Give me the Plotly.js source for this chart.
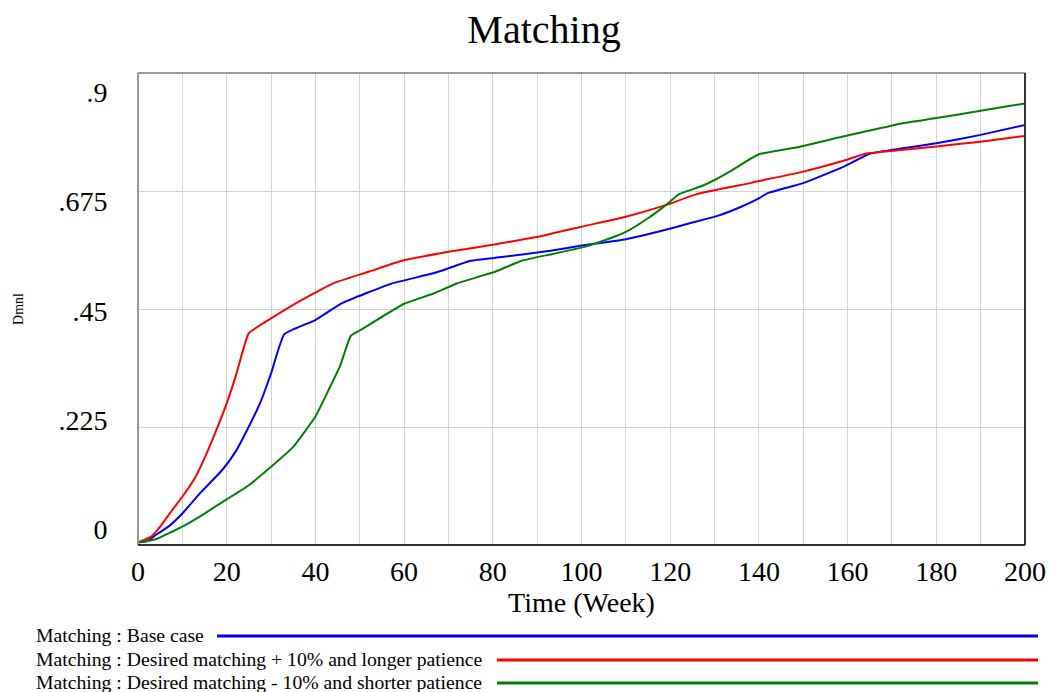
<!DOCTYPE html>
<html>
<head>
<meta charset="utf-8">
<script src="https://cdn.plot.ly/plotly-3.0.1.min.js"></script>
<style>html,body{margin:0;padding:0;background:#fff;}#chart{width:1051px;height:692px;}</style>
</head>
<body>
<div id="chart"></div>
<script>
// ---- data ----
const chartTitle = "Matching";
const xTitle = "Time (Week)";
const yTitle = "Dmnl";
const seriesNames = [
  "Matching : Base case",
  "Matching : Desired matching + 10% and longer patience",
  "Matching : Desired matching - 10% and shorter patience"
];
const seriesColors = ["#0000ff", "#ff0000", "#008000"];

const baseTime = [0, 2, 4, 7, 10, 14, 19, 22, 25, 27.5, 30, 33, 40, 46, 57, 67, 75, 82, 93, 100, 110, 119, 125, 130.5, 136, 140, 142, 150, 159, 165, 172, 180, 190, 200];
const baseValue = [0.005, 0.007, 0.019, 0.036, 0.060, 0.099, 0.143, 0.178, 0.226, 0.270, 0.327, 0.402, 0.429, 0.461, 0.498, 0.519, 0.542, 0.549, 0.561, 0.571, 0.583, 0.601, 0.615, 0.627, 0.645, 0.661, 0.671, 0.690, 0.721, 0.746, 0.756, 0.766, 0.782, 0.801];

const plusTime = [0, 3, 5, 8, 10, 13, 15.5, 18, 20, 22, 23.5, 25, 30, 35, 44, 52, 59.5, 70, 81, 91, 100, 110, 119, 126, 138, 140, 150, 160, 164, 172, 180, 190, 200];
const plusValue = [0.005, 0.016, 0.035, 0.070, 0.092, 0.130, 0.175, 0.226, 0.270, 0.321, 0.366, 0.404, 0.432, 0.458, 0.499, 0.521, 0.542, 0.559, 0.574, 0.589, 0.607, 0.626, 0.648, 0.669, 0.690, 0.694, 0.712, 0.735, 0.746, 0.753, 0.760, 0.769, 0.780];

const minusTime = [0, 4, 10, 15, 20, 25, 30, 35, 40, 43, 45.5, 48, 50, 60, 66.5, 72, 77, 80.5, 86.5, 93.5, 100, 106.5, 110, 115, 119, 122, 127, 130, 134, 140, 149, 158, 167, 173, 180, 190, 200];
const minusValue = [0.005, 0.011, 0.035, 0.060, 0.087, 0.114, 0.149, 0.187, 0.245, 0.296, 0.340, 0.399, 0.409, 0.460, 0.479, 0.499, 0.512, 0.521, 0.542, 0.555, 0.567, 0.585, 0.597, 0.623, 0.648, 0.669, 0.684, 0.696, 0.715, 0.745, 0.759, 0.777, 0.794, 0.805, 0.814, 0.828, 0.842];

const xTickStep = 20;
const yTickVals = [0, 0.225, 0.45, 0.675, 0.9];
const yTickText = ["0", ".225", ".45", ".675", ".9"];

// ---- layout constants ----
const W = 1051, H = 692;
const M = {l: 138, r: 26, t: 73, b: 147};
const PW = W - M.l - M.r, PH = H - M.t - M.b;
const px2x = p => (p - M.l) / PW;
const py2y = p => (H - M.b - p) / PH;
const font = "'Liberation Serif', 'Times New Roman', serif";

const xs = [baseTime, plusTime, minusTime];
const ys = [baseValue, plusValue, minusValue];
const traces = xs.map((x, i) => ({
  x: x, y: ys[i], type: "scatter", mode: "lines", name: seriesNames[i],
  line: {color: seriesColors[i], width: 2, shape: "spline", smoothing: 0.4}, showlegend: false
}));
// invisible copy so that the label axis (y2) is instantiated
traces.push({x: baseTime, y: baseValue, yaxis: "y2", type: "scatter", mode: "lines",
  line: {width: 0}, opacity: 0, hoverinfo: "skip", showlegend: false});

// legend drawn as annotations + shapes (Vensim style)
const legendRowsY = [635, 659, 682];
const legendLineStart = [217, 497, 497];
const legendLineEnd = 1038;
const annotations = seriesNames.map((n, i) => ({
  text: n, xref: "paper", yref: "paper", x: px2x(35), y: py2y(legendRowsY[i]),
  xanchor: "left", yanchor: "middle", showarrow: false, borderpad: 0,
  font: {family: font, size: 19.7, color: "#000"}
}));
const shapes = seriesNames.map((n, i) => ({
  type: "line", xref: "paper", yref: "paper",
  x0: px2x(legendLineStart[i]), x1: px2x(legendLineEnd),
  y0: py2y(legendRowsY[i] + 1), y1: py2y(legendRowsY[i] + 1),
  line: {color: seriesColors[i], width: 3}
}));
// plot frame
shapes.push(
  {type: "line", xref: "paper", yref: "paper", x0: 0, x1: 1, y0: 1, y1: 1, line: {color: "#999", width: 2}},
  {type: "line", xref: "paper", yref: "paper", x0: 0, x1: 0, y0: 0, y1: 1, line: {color: "#999", width: 2}},
  {type: "line", xref: "paper", yref: "paper", x0: 1, x1: 1, y0: 0, y1: 1, line: {color: "#333", width: 2}},
  {type: "line", xref: "paper", yref: "paper", x0: 0, x1: 1, y0: 0, y1: 0, line: {color: "#333", width: 2}}
);

// secondary axis carries the Vensim-style (inset) tick labels
const labTop = 92.5, labBot = 529;
const perPx = (yTickVals[yTickVals.length - 1] - yTickVals[0]) / (labBot - labTop);
const y2range = [yTickVals[0] - (H - M.b - labBot) * perPx, yTickVals[yTickVals.length - 1] + (labTop - M.t) * perPx];

const layout = {
  width: W, height: H, margin: M,
  paper_bgcolor: "#fff", plot_bgcolor: "#fff",
  font: {family: font, color: "#000"},
  title: {text: chartTitle, font: {family: font, size: 40, color: "#000"},
          x: 544 / W, xanchor: "center", y: 1 - 29 / H, yanchor: "middle"},
  xaxis: {
    range: [0, 200], tick0: 0, dtick: xTickStep, showgrid: true, gridcolor: "#d3d3d3", gridwidth: 1,
    minor: {dtick: xTickStep / 2, showgrid: true, gridcolor: "#d3d3d3", gridwidth: 1},
    zeroline: false, showline: false, ticks: "outside", ticklen: 1, tickcolor: "rgba(0,0,0,0)",
    tickfont: {family: font, size: 28, color: "#000"},
    title: {text: xTitle, font: {family: font, size: 28, color: "#000"}, standoff: 4}
  },
  yaxis: {
    range: [yTickVals[0], yTickVals[yTickVals.length - 1]], tickvals: yTickVals, showticklabels: false,
    showgrid: true, gridcolor: "#d3d3d3", gridwidth: 1, zeroline: false, showline: false,
    title: {text: yTitle, font: {family: font, size: 14, color: "#000"}, standoff: 110}
  },
  yaxis2: {
    overlaying: "y", side: "left", range: y2range, tickvals: yTickVals, ticktext: yTickText,
    showgrid: false, zeroline: false, showline: false,
    ticks: "outside", ticklen: 24, tickcolor: "rgba(0,0,0,0)",
    tickfont: {family: font, size: 28, color: "#000"}
  },
  annotations: annotations,
  shapes: shapes
};

Plotly.newPlot("chart", traces, layout, {displayModeBar: false, staticPlot: true});
</script>
</body>
</html>
